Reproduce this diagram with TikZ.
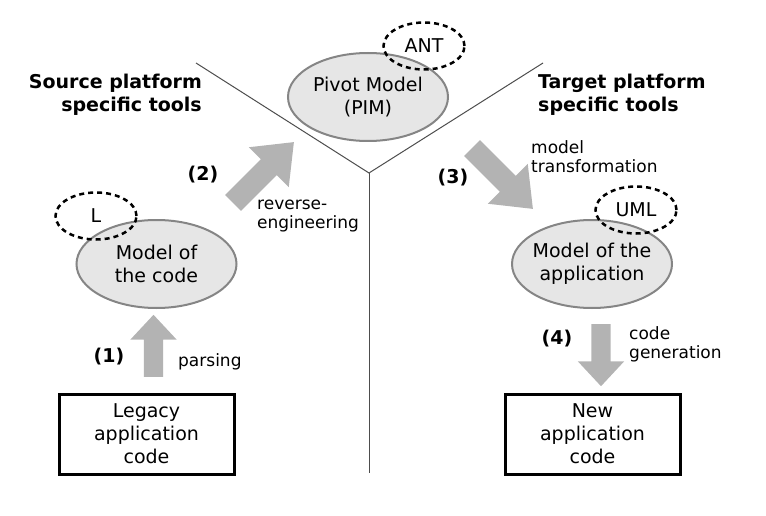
\documentclass[tikz,border=0pt]{standalone}
\usepackage{fontspec}
\setmainfont{DejaVu Sans}
\usetikzlibrary{shapes.geometric,shapes.arrows}
\definecolor{elfill}{HTML}{E6E6E6}
\definecolor{eldraw}{HTML}{858585}
\definecolor{arrgray}{HTML}{B3B3B3}
\definecolor{divline}{HTML}{4D4D4D}
\tikzset{
 mainfont/.style={font=\fontsize{19}{23}\selectfont},
 labfont/.style={font=\fontsize{17}{19}\selectfont},
 model/.style={ellipse, fill=elfill, draw=eldraw, line width=2pt, inner sep=0pt, minimum width=160pt, minimum height=88pt},
 mtext/.style={mainfont, align=center, inner sep=0pt},
 lang/.style={ellipse, draw=black, line width=2.5pt, dash pattern=on 5pt off 4pt, inner sep=0pt, minimum width=81pt, minimum height=47pt, mainfont},
 codebox/.style={draw=black, line width=3pt, minimum width=175pt, minimum height=80pt, inner sep=0pt, align=center, mainfont},
 blockarrow/.style={single arrow, fill=arrgray, draw=none, inner xsep=0pt, inner ysep=9.5pt, single arrow tip angle=86, minimum width=46pt, single arrow head extend=13.5pt},
 diagarrow/.style={blockarrow, minimum height=86pt, minimum width=56pt, inner ysep=11pt, single arrow head extend=17pt, single arrow tip angle=77},
 steplabel/.style={font=\fontsize{19}{23}\selectfont\bfseries, inner sep=0pt},
 heading/.style={font=\fontsize{19}{23}\selectfont\bfseries, inner sep=0pt},
 desc/.style={labfont, align=left, inner sep=0pt, anchor=west},
 divider/.style={draw=divline, line width=1pt}
}
\begin{document}
\begin{tikzpicture}[x=1pt, y=-1pt]
\useasboundingbox (0,0) rectangle (766,516);
% dividers
\coordinate (lt) at (196,63);
\coordinate (rt) at (543,63);
\coordinate (hub) at (369,173);
\coordinate (bot) at (369,473);
\draw[divider] (lt) -- (hub) -- (rt);
\draw[divider] (hub) -- (bot);
% headings
\node[heading, align=right, anchor=east] (src) at (202,94.5) {Source platform\\specific tools};
\node[heading, align=left, anchor=west] (tgt) at (538,94.5) {Target platform\\specific tools};
% models
\node[model, label={[mtext]center:Pivot Model\\(PIM)}] (pim) at (368,97) {};
\node[model, label={[mtext]center:Model of\\the code}] (moc) at (156.5,264) {};
\node[model, label={[mtext]center:Model of the\\application}] (moa) at (592,264) {};
\node[lang] (ant) at (424,46) {ANT};
\node[lang] (lng) at (96,216) {L};
\node[lang] (uml) at (636,210) {UML};
% code boxes
\node[codebox] (legacy) at (146.5,434) {Legacy\\application\\code};
\node[codebox] (newcode) at (592.5,434) {New\\application\\code};
% block arrows
\node[blockarrow, rotate=90, minimum height=62pt] (a1) at (153.5,351) {};
\node[blockarrow, rotate=-90, minimum height=62pt] (a4) at (601,350) {};
\node[diagarrow, rotate=45] (a2) at (258.5,177.5) {};
\node[diagarrow, rotate=-45] (a3) at (497.5,173.5) {};
% step labels
\node[steplabel] (s1) at (109,357) {(1)};
\node[steplabel] (s2) at (203,175) {(2)};
\node[steplabel] (s3) at (453,178) {(3)};
\node[steplabel] (s4) at (557,339) {(4)};
% descriptions
\node[desc] (d1) at (178,362) {parsing};
\node[desc] (d2) at (257,216) {reverse-\\engineering};
\node[desc] (d3) at (531,156.5) {model\\transformation};
\node[desc] (d4) at (629,344) {code\\generation};
\end{tikzpicture}
\end{document}
